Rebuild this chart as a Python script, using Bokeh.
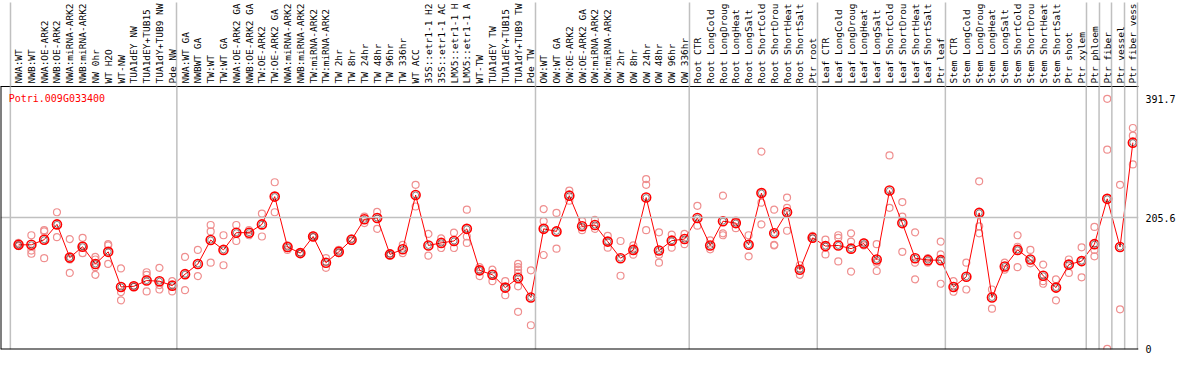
import math
from bokeh.plotting import figure
from bokeh.models import Range1d, Span, LinearAxis, FixedTicker, Label
from bokeh.embed import file_html
from bokeh.resources import INLINE

# ---------------- data ----------------
title_text = "Potri.009G033400"

labels = [
    "NWA:WT", "NWB:WT", "NWA:OE-ARK2", "NWB:OE-ARK2", "NWA:miRNA-ARK2", "NWB:miRNA-ARK2",
    "NW 0hr", "WT H2O", "WT-NW", "TUA1dEY NW", "TUA1dEY+TUB15", "TUA1dY+TUB9 NW", "Pde NW",
    "NWA:WT GA", "NWBWT GA", "TW:WT", "TW:WT GA", "NWA:OE-ARK2 GA", "NWB:OE-ARK2 GA",
    "TW:OE-ARK2", "TW:OE-ARK2 GA", "NWA:miRNA-ARK2", "NWB:miRNA-ARK2", "TW:miRNA-ARK2",
    "TW:miRNA-ARK2", "TW 2hr", "TW 8hr", "TW 24hr", "TW 48hr", "TW 96hr", "TW 336hr",
    "WT ACC", "35S::etr1-1 H2", "35S::etr1-1 AC", "LMX5::etr1-1 H", "LMX5::etr1-1 A",
    "WT-TW", "TUA1dEY TW", "TUA1dEY+TUB15", "TUA1dY+TUB9 TW", "Pde TW",
    "OW:WT", "OW:WT GA", "OW:OE-ARK2", "OW:OE-ARK2 GA", "OW:miRNA-ARK2", "OW:miRNA-ARK2",
    "OW 2hr", "OW 8hr", "OW 24hr", "OW 48hr", "OW 96hr", "OW 336hr",
    "Root CTR", "Root LongCold", "Root LongDroug", "Root LongHeat", "Root LongSalt",
    "Root ShortCold", "Root ShortDrou", "Root ShortHeat", "Root ShortSalt", "Ptr root",
    "Leaf CTR", "Leaf LongCold", "Leaf LongDroug", "Leaf LongHeat", "Leaf LongSalt",
    "Leaf ShortCold", "Leaf ShortDrou", "Leaf ShortHeat", "Leaf ShortSalt", "Ptr leaf",
    "Stem CTR", "Stem LongCold", "Stem LongDroug", "Stem LongHeat", "Stem LongSalt",
    "Stem ShortCold", "Stem ShortDrou", "Stem ShortHeat", "Stem ShortSalt", "Ptr shoot",
    "Ptr xylem", "Ptr phloem", "Ptr fiber", "Ptr vessel", "Ptr fiber vess",
]

means = [
    163, 163, 171, 195, 143, 160, 133, 152, 97, 98, 107, 106, 99,
    117, 133, 170.5, 155, 182, 182, 195, 238.5, 159.5, 150, 176, 135, 152, 171, 203,
    205, 148, 156, 241, 162, 166, 169, 188, 123, 116, 96, 111, 80.5,
    188, 184, 240, 192, 194, 168, 142, 155, 237, 154, 169.5, 172,
    205, 162, 200, 197, 163, 244, 181, 214, 124, 174,
    161, 162, 157, 165, 140, 248, 197, 142, 139, 139,
    97, 113, 213, 80.5, 129, 155, 140, 114.5, 96, 132, 137.5,
    164, 235, 159.5, 323,
]

replicates = [
    [166, 161, 163], [178, 154, 149], [186, 184, 142], [214, 175], [172, 140, 119],
    [174, 162, 150], [144, 140, 128, 116], [164, 162, 133], [126, 89, 76], [99, 97],
    [120, 116, 90], [127, 100, 93], [106, 90],
    [144, 92], [155, 114], [194, 184, 135], [178, 131], [194, 169], [186, 178],
    [212, 176], [261, 214], [162, 155], [151, 149], [178, 175], [142, 127], [155, 150],
    [173, 169], [207, 197], [214.5, 188], [149.5, 146.5], [163, 150], [257, 223],
    [180, 146], [173, 158], [182, 158], [218, 176, 166], [128, 114], [124, 106],
    [106, 84], [133, 128, 124, 119, 98, 58], [123, 37],
    [219, 200, 147], [213, 157], [248, 232], [200, 186], [202, 188], [177, 158.5],
    [169, 114.5], [162, 147.5], [266, 257, 186], [182.5, 147.5, 135], [179, 158.5], [180, 164],
    [224, 193], [170, 156], [240, 181, 178], [201, 189], [178, 145], [309, 229, 195],
    [218, 163, 162], [237, 221, 185], [131, 116], [177, 173],
    [171, 148], [178, 174, 137], [181, 168, 121], [167, 162], [164, 135, 122],
    [303, 221], [230, 207, 152], [182.5, 135, 109], [142, 135], [168, 148, 102],
    [106, 89.5], [135, 93], [262.5, 192, 181], [93, 63], [135, 124], [178, 160, 128],
    [155, 134], [132, 106, 102], [109, 76], [140, 119], [159, 112],
    [191, 155, 145], [391.7, 312, 0], [257, 62], [346, 334, 289],
]

# first category index of each group (last entry closes the final group)
group_starts = [0, 13, 41, 53, 63, 73, 84, 85, 86, 87, 88]

y_ticks = [0, 205.6, 391.7]

# ---------------- layout ----------------
W, H = 1178, 354
BAND = 84                 # px: height of the rotated-label band
LABEL_GAP = 3
BOTTOM_BORDER = 5
v_lo, v_hi = -1.0, 411.0
x_lo, x_hi = -1.41, 87.44
BOUND_OFFSET = 0.64

MONO = "DejaVu Sans Mono"
GRID = "#c0c0c0"

idx = list(range(len(labels)))
bounds = [g - BOUND_OFFSET for g in group_starts]

p = figure(width=W, height=H, output_backend="svg", toolbar_location=None,
           x_range=Range1d(x_lo, x_hi), y_range=Range1d(v_lo, v_hi),
           x_axis_location=None, y_axis_location=None,
           min_border_left=0, min_border_right=0, min_border_top=0,
           min_border_bottom=BOTTOM_BORDER)
p.outline_line_color = None
p.xgrid.visible = False
p.ygrid.visible = False
p.background_fill_color = "white"
p.border_fill_color = "white"

# category axis on top, labels rotated; minor ticks = group separators through the band
xaxis = LinearAxis(ticker=FixedTicker(ticks=idx, minor_ticks=bounds),
                   major_label_overrides={i: lab for i, lab in zip(idx, labels)},
                   major_label_orientation=math.pi / 2,
                   axis_line_color="black", axis_line_width=1,
                   major_tick_line_color=None, major_tick_out=0, major_tick_in=0,
                   minor_tick_line_color=GRID, minor_tick_line_width=1.5,
                   minor_tick_out=BAND, minor_tick_in=0,
                   major_label_standoff=LABEL_GAP - BAND,
                   major_label_text_font=MONO, major_label_text_font_size="9.5px",
                   major_label_text_color="black")
p.add_layout(xaxis, "above")

# right value axis
yaxis = LinearAxis(ticker=FixedTicker(ticks=y_ticks),
                   major_label_overrides={t: str(t) for t in y_ticks},
                   axis_line_color=None, major_tick_line_color=None,
                   minor_tick_line_color=None, major_tick_out=0, major_tick_in=0,
                   minor_tick_out=0, minor_tick_in=0, major_label_standoff=7,
                   major_label_text_font=MONO, major_label_text_font_size="10px",
                   major_label_text_color="black")
p.add_layout(yaxis, "right")

# group separators in the plot panel
for b in bounds:
    p.add_layout(Span(location=b, dimension="height", line_color=GRID, line_width=1.5))
# horizontal reference line at middle tick
p.add_layout(Span(location=y_ticks[1], dimension="width", line_color=GRID, line_width=1.5))
# borders
p.add_layout(Span(location=v_lo, dimension="width", line_color="black", line_width=2))
p.add_layout(Span(location=x_lo, dimension="height", line_color="black", line_width=2))

# replicates
rx, ry = [], []
for i, reps in enumerate(replicates):
    for r in reps:
        rx.append(i)
        ry.append(r)
p.scatter(x=rx, y=ry, marker="circle", size=7, line_color="#ef8f8f",
          fill_color=None, line_width=1.2)

# mean line + markers
p.line(x=idx, y=means, line_color="red", line_width=1)
p.scatter(x=idx, y=means, marker="circle", size=9, line_color="red",
          fill_color=None, line_width=1.6)
p.scatter(x=idx, y=means, marker="circle", size=6, line_color="black",
          line_alpha=0.6, fill_color=None, line_width=0.8)

# title
p.add_layout(Label(x=-0.77, y=v_hi, y_offset=-12, text=title_text, text_color="red",
                   text_font=MONO, text_font_size="10px", text_baseline="middle",
                   text_align="left"))

open("out.html", "w").write(file_html(p, INLINE))
